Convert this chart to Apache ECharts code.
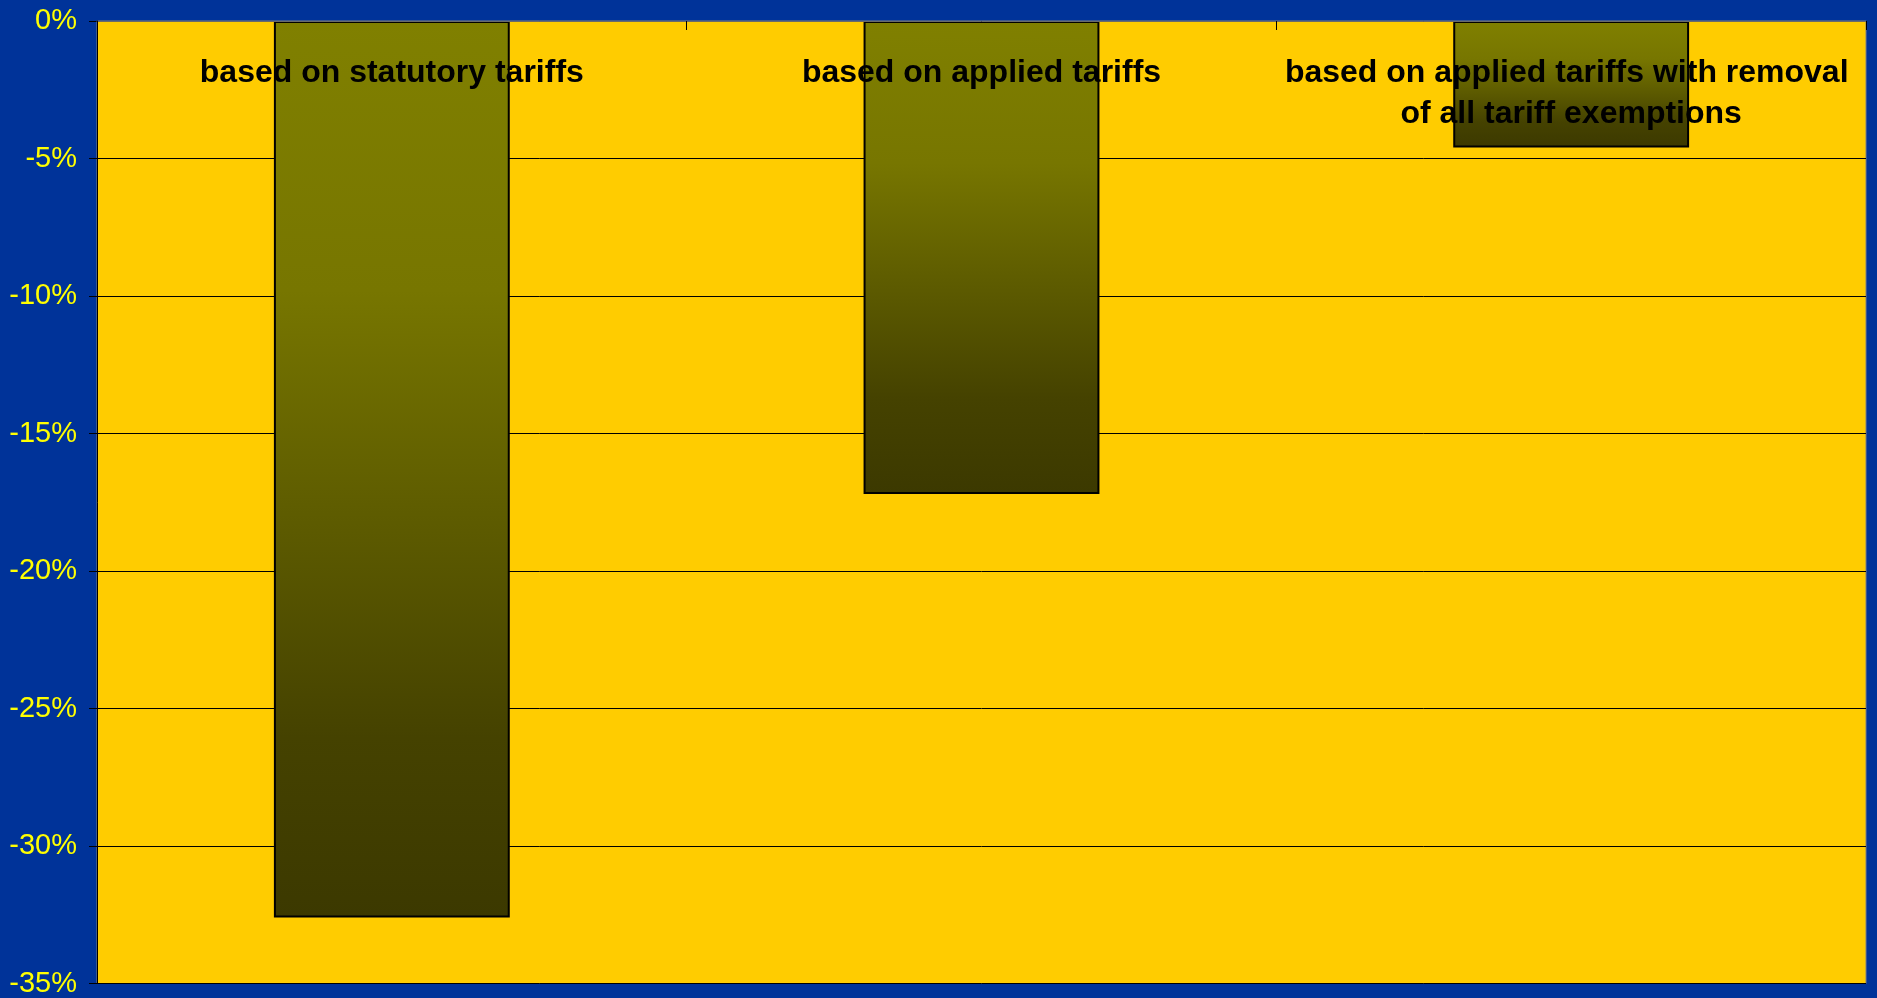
<!DOCTYPE html>
<html>
<head>
<meta charset="utf-8">
<script src="https://cdn.jsdelivr.net/npm/echarts@6/dist/echarts.min.js"></script>
<style>
html,body{margin:0;padding:0;background:#003399;}
#c{width:1877px;height:998px;}
</style>
</head>
<body>
<div id="c"></div>
<script>
var categories = [
  "based on statutory tariffs",
  "based on applied tariffs",
  "based on applied tariffs with removal of all tariff exemptions"
];
var values = [-32.6, -17.2, -4.6];
var yMin = -35, yMax = 0, yStep = 5;

var chart = echarts.init(document.getElementById('c'));
chart.setOption({
  backgroundColor: '#003399',
  animation: false,
  grid: {
    left: 97, top: 21, right: 11, bottom: 14,
    show: true, backgroundColor: '#FFCC00', borderColor: '#808080', borderWidth: 1
  },
  xAxis: {
    type: 'category',
    data: categories,
    position: 'top',
    z: 10,
    axisLine: { show: true, lineStyle: { color: '#6a6a6a', width: 1 } },
    axisTick: { show: true, inside: true, length: 9, lineStyle: { color: '#000' } },
    axisLabel: {
      inside: true,
      margin: 32,
      color: '#000',
      fontFamily: 'Liberation Sans, Arial, sans-serif',
      fontWeight: 'bold',
      fontSize: 32,
      lineHeight: 41,
      width: 590,
      overflow: 'break',
      interval: 0
    },
    splitLine: { show: false }
  },
  yAxis: {
    type: 'value',
    min: yMin, max: yMax, interval: yStep,
    axisLine: { show: true, lineStyle: { color: '#000', width: 1 } },
    axisTick: { show: true, length: 8, lineStyle: { color: '#000' } },
    axisLabel: {
      color: '#FFFF00',
      fontFamily: 'Liberation Sans, Arial, sans-serif',
      fontSize: 29,
      margin: 20,
      formatter: '{value}%'
    },
    splitLine: { show: true, lineStyle: { color: '#000', width: 1 } }
  },
  series: [{
    type: 'bar',
    data: values,
    barCategoryGap: '60%',
    itemStyle: {
      color: new echarts.graphic.LinearGradient(0, 0, 0, 1, [
        { offset: 0, color: '#808000' },
        { offset: 0.3, color: '#777600' },
        { offset: 0.8, color: '#454200' },
        { offset: 1, color: '#3C3900' }
      ]),
      borderColor: '#000',
      borderWidth: 2
    }
  }]
});
</script>
</body>
</html>
